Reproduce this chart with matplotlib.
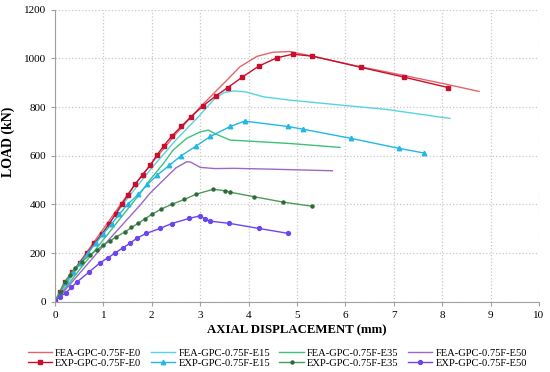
import matplotlib
matplotlib.use("Agg")
import matplotlib.pyplot as plt

plt.rcParams['font.family'] = ['Liberation Serif', 'DejaVu Serif']

# FEA curves (displacement mm, load kN)
fea_e0_x = [0, 0.5, 1.0, 1.5, 2.0, 2.5, 3.0, 3.5, 3.82, 4.17, 4.5, 4.85, 5.34, 6.3, 7.2, 8.1, 8.76]
fea_e0_y = [0, 160, 300, 440, 570, 690, 800, 900, 965, 1008, 1025, 1028, 1008, 966, 930, 893, 864]

fea_e15_x = [0, 0.5, 1.0, 1.5, 2.0, 2.5, 3.0, 3.3, 3.5, 3.7, 3.95, 4.3, 4.86, 6.85, 8.16]
fea_e15_y = [0, 150, 290, 425, 550, 665, 768, 835, 860, 866, 862, 842, 828, 790, 753]

fea_e35_x = [0, 0.5, 1.0, 1.5, 1.76, 1.96, 2.24, 2.44, 2.72, 3.0, 3.17, 3.31, 3.62, 3.82, 4.86, 5.89]
fea_e35_y = [0, 130, 255, 380, 445, 500, 568, 623, 671, 698, 705, 690, 664, 662, 650, 634]

fea_e50_x = [0, 0.5, 1.0, 1.5, 1.76, 1.96, 2.24, 2.5, 2.72, 2.8, 3.0, 3.3, 3.7, 4.58, 5.73]
fea_e50_y = [0, 115, 230, 340, 397, 445, 500, 550, 575, 574, 552, 547, 548, 544, 538]

# experimental curves
exp_e0_x = [0, 0.10, 0.20, 0.36, 0.51, 0.67, 0.81, 0.98, 1.12, 1.25, 1.38, 1.51, 1.65, 1.81,
            1.97, 2.10, 2.25, 2.41, 2.61, 2.81, 3.06, 3.32, 3.57, 3.87, 4.21, 4.58, 4.91,
            5.32, 6.32, 7.21, 8.12]
exp_e0_y = [0, 40, 80, 120, 160, 200, 240, 280, 320, 360, 400, 440, 482, 522, 561, 601, 641,
            680, 720, 760, 805, 845, 880, 923, 968, 1002, 1017, 1009, 963, 923, 880]

exp_e15_x = [0, 0.10, 0.22, 0.37, 0.52, 0.68, 0.84, 1.00, 1.17, 1.33, 1.50, 1.72, 1.91, 2.11,
             2.36, 2.61, 2.91, 3.21, 3.62, 3.92, 4.81, 5.12, 6.12, 7.11, 7.62]
exp_e15_y = [0, 40, 80, 120, 160, 200, 240, 280, 320, 360, 400, 441, 482, 520, 560, 600, 639,
             679, 720, 742, 720, 709, 671, 630, 611]

exp_e35_x = [0, 0.10, 0.20, 0.30, 0.42, 0.55, 0.72, 0.86, 1.00, 1.14, 1.27, 1.45, 1.58, 1.72,
             1.86, 2.01, 2.20, 2.41, 2.67, 2.92, 3.27, 3.51, 3.62, 4.12, 4.72, 5.32]
exp_e35_y = [0, 40, 82, 108, 140, 164, 192, 212, 233, 250, 267, 287, 305, 322, 341, 360, 381,
             400, 420, 442, 462, 456, 450, 431, 409, 392]

exp_e50_x = [0, 0.10, 0.23, 0.34, 0.46, 0.70, 0.93, 1.10, 1.24, 1.40, 1.55, 1.69, 1.89, 2.17,
             2.41, 2.77, 3.00, 3.10, 3.20, 3.60, 4.21, 4.81]
exp_e50_y = [0, 21, 37, 59, 82, 121, 160, 181, 200, 221, 240, 261, 281, 301, 321, 342, 353,
             340, 331, 322, 301, 281]

fig, ax = plt.subplots(figsize=(5.5, 3.72), dpi=100)
fig.subplots_adjust(left=0.1, right=0.98, top=0.974, bottom=0.189)

h = {}
h['fea0'], = ax.plot(fea_e0_x, fea_e0_y, color='#E5646A', lw=1.0)
h['fea15'], = ax.plot(fea_e15_x, fea_e15_y, color='#56D4E6', lw=1.0)
h['fea35'], = ax.plot(fea_e35_x, fea_e35_y, color='#3CC27A', lw=1.0)
h['fea50'], = ax.plot(fea_e50_x, fea_e50_y, color='#A066C2', lw=1.0)

h['exp0'], = ax.plot(exp_e0_x, exp_e0_y, color='#C8102E', lw=1.0, marker='s', ms=3.2)
h['exp15'], = ax.plot(exp_e15_x, exp_e15_y, color='#22B8E6', lw=1.0, marker='^', ms=3.2)
h['exp35'], = ax.plot(exp_e35_x, exp_e35_y, color='#4E9A5A', lw=1.0, marker='o', ms=2.2,
                      mfc='#2F6B3A', mec='#2F6B3A')
h['exp50'], = ax.plot(exp_e50_x, exp_e50_y, color='#6A45F0', lw=1.0, marker='o', ms=2.8)

ax.set_xlim(0, 10)
ax.set_ylim(0, 1200)
ax.set_xticks(range(0, 11))
ax.set_yticks(range(0, 1201, 200))
ax.grid(True, color='#C8C8C8', ls=':', lw=0.9)
ax.set_axisbelow(True)
for s in ['top', 'right']:
    ax.spines[s].set_visible(False)
for s in ['left', 'bottom']:
    ax.spines[s].set_color('#A0A0A0')
ax.tick_params(labelsize=8, color='#A0A0A0', length=3)

ax.set_xlabel('AXIAL DISPLACEMENT (mm)', fontsize=9.2, fontweight='bold', labelpad=3)
ax.set_ylabel('LOAD (kN)', fontsize=10, fontweight='bold')
ax.yaxis.set_label_coords(-0.083, 0.547)

handles = [h['fea0'], h['exp0'], h['fea15'], h['exp15'], h['fea35'], h['exp35'], h['fea50'], h['exp50']]
labels = ['FEA-GPC-0.75F-E0', 'EXP-GPC-0.75F-E0', 'FEA-GPC-0.75F-E15', 'EXP-GPC-0.75F-E15',
          'FEA-GPC-0.75F-E35', 'EXP-GPC-0.75F-E35', 'FEA-GPC-0.75F-E50', 'EXP-GPC-0.75F-E50']
fig.legend(handles, labels, ncol=4, loc='lower left', bbox_to_anchor=(0.033, -0.015),
           frameon=False, fontsize=7.6, handlelength=2.3, columnspacing=0.9,
           handletextpad=0.3, labelspacing=0.05)

fig.savefig('out.png', dpi=100)
